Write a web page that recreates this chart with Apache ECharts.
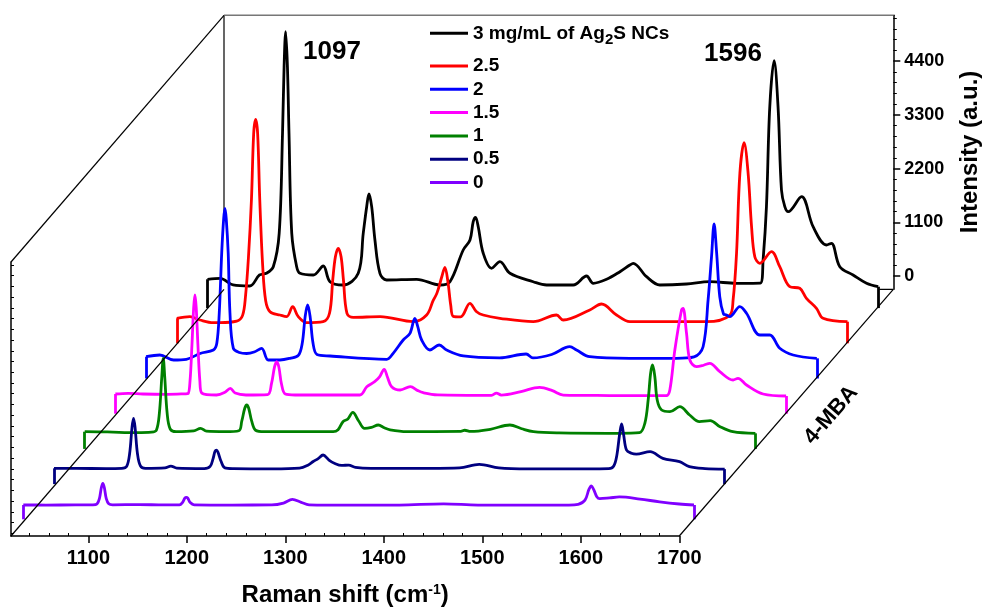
<!DOCTYPE html>
<html>
<head>
<meta charset="utf-8">
<title>4-MBA Raman waterfall</title>
<script src="https://cdn.jsdelivr.net/npm/echarts@6/dist/echarts.min.js"></script>
<style>
    html, body { margin: 0; padding: 0; background: #fff; }
    #main { width: 985px; height: 614px; }
</style>
</head>
<body>
<div id="main"></div>
<script>
// legend names, back (black) to front (violet)
var seriesNames = ['3 mg/mL of Ag2S NCs', '2.5', '2', '1.5', '1', '0.5', '0'];
var seriesColors = ['#000000', '#ff0000', '#0000ff', '#ff00ff', '#008000', '#000080', '#8000ff'];

// spectra: [Raman shift (cm-1), intensity (a.u.)]
var spec3 = [[1017,318],[1030,338],[1043,201],[1060,180],[1070,406],[1077,440],[1084,575],[1090,1259],[1093.4,3306],[1095,4670],[1096.6,5386],[1098.4,4670],[1100,3306],[1102.8,1259],[1107.8,575],[1111.2,440],[1124.7,406],[1134.9,590],[1141.7,268],[1155.2,201],[1170.5,440],[1175.6,1259],[1179.1,1804],[1181.4,2064],[1184.2,1804],[1187.5,1122],[1192.6,440],[1199.4,303],[1230,318],[1253.7,201],[1263.9,268],[1277.4,917],[1284.3,1122],[1287.6,1497],[1290,1587],[1292.7,1394],[1297.8,850],[1306.3,543],[1314.8,678],[1325,440],[1348.7,268],[1362.3,201],[1389.4,201],[1403,385],[1409.8,236],[1423.4,318],[1437,473],[1447.1,610],[1450.5,645],[1464.1,371],[1477.6,201],[1504.8,221],[1528.5,268],[1555.7,236],[1580,240],[1582.8,713],[1586.2,1804],[1589.6,3851],[1594,4792],[1598,3851],[1601.5,2146],[1604.9,1804],[1608.3,1701],[1621.9,2008],[1633.7,1394],[1647.3,1020],[1652.4,1054],[1660.9,575],[1674.4,406],[1688.1,236],[1700,166]];
var spec25 = [[1017,240],[1030.4,273],[1040.6,205],[1054,150],[1061,150],[1078,180],[1084,300],[1087,700],[1090,1500],[1093,2661],[1095.3,4027],[1097.3,4313],[1099.3,4027],[1101.5,2661],[1104.5,1300],[1107.5,600],[1111.9,375],[1122.1,307],[1128.9,273],[1135,477],[1140.7,273],[1149.2,150],[1166,170],[1172.5,342],[1175.8,1024],[1178.5,1500],[1181.4,1673],[1184.3,1500],[1186.7,1024],[1190.3,342],[1196.7,260],[1224,273],[1258,170],[1271.4,307],[1278,600],[1282,760],[1287,1100],[1290,1284],[1293,1000],[1296,500],[1298.5,280],[1306,270],[1315.5,547],[1322,380],[1329,307],[1346,240],[1380,170],[1403.7,307],[1410.5,205],[1437.6,410],[1449.5,532],[1464.8,307],[1478.4,170],[1556.4,170],[1580,300],[1583.5,614],[1587,1570],[1590.4,3208],[1594.7,3834],[1598.8,3208],[1602.3,2115],[1605.6,1501],[1610.7,1366],[1622.6,1603],[1631,1296],[1641.2,887],[1651.4,854],[1658.2,649],[1668.4,444],[1675.1,240],[1700,170]];
var spec2 = [[1017,174],[1031,209],[1045,107],[1058,121],[1072,240],[1085.5,311],[1089,450],[1091.5,1069],[1094,2300],[1096,3000],[1097.3,3212],[1098.6,3000],[1100.6,2300],[1102.4,1069],[1105.8,350],[1112,260],[1119.4,240],[1127,270],[1134.7,346],[1141.4,107],[1153.3,107],[1163.5,141],[1172,200],[1176,450],[1179,1000],[1181.5,1233],[1184,1000],[1187,450],[1191,220],[1204.3,189],[1262,121],[1268.6,244],[1278.8,516],[1285.7,653],[1290.7,960],[1293.5,800],[1297.6,516],[1306,311],[1315.5,414],[1323,311],[1340,189],[1377,150],[1404,230],[1411,150],[1430,220],[1448.5,379],[1455.3,311],[1468.8,174],[1509.6,141],[1557,141],[1575,170],[1584.2,378],[1589.3,1335],[1592.8,2221],[1595.4,2891],[1598,2300],[1601.2,1400],[1605,1050],[1608,1028],[1611.4,993],[1621.6,1198],[1628.4,1063],[1642,618],[1652.1,618],[1662.3,346],[1675.9,209],[1700,141]];
var spec15 = [[1017,131],[1030,145],[1045,131],[1070,125],[1088,135],[1091,140],[1093,400],[1095,1150],[1096.7,1900],[1098,2158],[1099.3,1900],[1101,1150],[1103,400],[1105,150],[1120,111],[1128,160],[1134,248],[1139,150],[1150,111],[1172,120],[1176,350],[1179,680],[1181.2,792],[1183.5,680],[1186,350],[1190,130],[1200,111],[1266,111],[1273,281],[1281,383],[1286,480],[1290.7,637],[1294,480],[1298.3,281],[1307,213],[1317.3,281],[1325,200],[1330.5,158],[1345,115],[1400,105],[1405,150],[1410,110],[1430,180],[1449,268],[1462,200],[1473,110],[1520,100],[1578,96],[1581.6,213],[1586.7,1032],[1593.5,1851],[1595.1,1886],[1598.6,1374],[1602,827],[1608.8,690],[1616,720],[1622.3,760],[1632.5,588],[1646,418],[1651,453],[1659.7,315],[1676.6,131],[1700,90]];
var spec1 = [[1017,80],[1040,75],[1070,60],[1085,70],[1090,110],[1093,450],[1095.5,1200],[1097,1583],[1098.5,1200],[1101,450],[1104,140],[1110,80],[1128,95],[1135,150],[1141,90],[1160,80],[1174,100],[1177,300],[1180,560],[1182,627],[1184,560],[1187,300],[1191,110],[1200,80],[1270,80],[1275,120],[1280,285],[1285,340],[1290,477],[1296,300],[1302,150],[1309,170],[1316,217],[1322,160],[1328,117],[1345,80],[1400,85],[1404,110],[1410,85],[1430,130],[1450,217],[1462,140],[1474,80],[1500,55],[1560,47],[1582,60],[1587.4,252],[1590.8,729],[1593.3,1276],[1595.3,1445],[1597.6,1206],[1600,729],[1604.5,524],[1613,490],[1623,592],[1633,422],[1643,285],[1654,305],[1664,182],[1677,80],[1700,47]];
var spec05 = [[1017,51],[1040,50],[1070,45],[1086,50],[1091,90],[1094,350],[1096.5,900],[1098,1075],[1099.5,900],[1102,350],[1105,100],[1110,50],[1130,60],[1136,97],[1142,55],[1170,45],[1176,90],[1179,250],[1181,400],[1182.5,424],[1184,380],[1187,200],[1191,60],[1200,45],[1240,40],[1267,55],[1276,120],[1281,190],[1286,250],[1291,324],[1297,220],[1303,150],[1310,110],[1317,117],[1324,70],[1340,51],[1400,51],[1430,60],[1450,133],[1470,60],[1500,40],[1560,40],[1582,45],[1587,100],[1590,300],[1593,750],[1595,958],[1597,750],[1600,426],[1605,360],[1610,342],[1624,391],[1637,256],[1654,187],[1664,84],[1680,45],[1700,35]];
var spec0 = [[1017,21],[1040,20],[1070,22],[1088,22],[1092,40],[1094.5,150],[1096.5,380],[1098,465],[1099.5,380],[1101.5,150],[1104,45],[1108,25],[1135,30],[1160,22],[1176,24],[1179,70],[1181.5,160],[1183,178],[1184.5,160],[1187,70],[1191,25],[1230,20],[1270,22],[1282,60],[1291,137],[1300,75],[1308,25],[1350,18],[1400,20],[1445,45],[1480,20],[1530,18],[1572,20],[1582,35],[1589,120],[1593,340],[1595.5,410],[1598,330],[1601,190],[1604,150],[1614,165],[1624,185],[1645,143],[1665,85],[1685,41],[1700,21]];
var spectra = [spec3, spec25, spec2, spec15, spec1, spec05, spec0];

// tick labels
var xMajorTicks = [1100, 1200, 1300, 1400, 1500, 1600, 1700];
var yMajorTicks = [0, 1100, 2200, 3300, 4400];

var FONT = '"Liberation Sans", Arial, Helvetica, sans-serif';
var Y_MIN = -272;
var UNIT_PER_PX = 20.47;
var WALL_MAX = Y_MIN + 274 * UNIT_PER_PX;
var SER_H = 300;
var SER_MAX = Y_MIN + SER_H * UNIT_PER_PX;
var LINE_W = 2.8;

var xMinorTicks = [];
for (var t = 1040; t <= 1680; t += 20) {
    if (t % 100 !== 0) xMinorTicks.push(t);
}
var yMinorTicks = [];
var wallTicks = [];
for (var v = -220; v <= 5280; v += 220) {
    wallTicks.push(v);
    if (v >= 0 && v % 1100 !== 0) yMinorTicks.push(v);
}

function plain(val) {
    return String(val);
}

var black = {color: '#000', width: 1.5};
var grids = [], xAxes = [], yAxes = [], series = [];

// front frame: floor axis + left wall
grids.push({left: 11, top: 262, width: 668.3, height: 274, outerBoundsMode: 'none'});
xAxes.push({
    type: 'value', gridIndex: 0, min: 1021.5, max: 1700, position: 'bottom',
    axisLine: {show: true, onZero: false, lineStyle: black},
    axisTick: {show: true, length: 7, customValues: xMajorTicks, lineStyle: black},
    axisLabel: {
        customValues: xMajorTicks, formatter: plain, margin: 12, color: '#000',
        fontSize: 20, fontWeight: 'bold', fontFamily: FONT
    },
    splitLine: {show: false},
    name: '{a|Raman shift (cm}{b|-1}{a|)}',
    nameLocation: 'middle',
    nameGap: 47,
    nameTextStyle: {
        rich: {
            a: {fontSize: 24, fontWeight: 'bold', fontFamily: FONT, color: '#000', lineHeight: 24, verticalAlign: 'middle'},
            b: {fontSize: 14, fontWeight: 'bold', fontFamily: FONT, color: '#000', lineHeight: 14, verticalAlign: 'top'}
        }
    }
});
xAxes.push({
    type: 'value', gridIndex: 0, min: 1021.5, max: 1700, position: 'bottom',
    axisLine: {show: false, onZero: false},
    axisTick: {show: true, inside: true, length: 3, customValues: xMinorTicks, lineStyle: {color: '#000', width: 1}},
    axisLabel: {show: false},
    splitLine: {show: false}
});
yAxes.push({
    type: 'value', gridIndex: 0, min: Y_MIN, max: WALL_MAX, position: 'left',
    axisLine: {show: true, onZero: false, lineStyle: black},
    axisTick: {show: true, inside: true, length: 3, customValues: wallTicks, lineStyle: {color: '#000', width: 1}},
    axisLabel: {show: false},
    splitLine: {show: false}
});

// back wall: intensity axis on the right
grids.push({left: 224, top: 15.3, width: 669.3, height: 274, outerBoundsMode: 'none'});
xAxes.push({type: 'value', gridIndex: 1, min: 1021.5, max: 1700, show: false});
yAxes.push({
    type: 'value', gridIndex: 1, min: Y_MIN, max: WALL_MAX, position: 'right',
    axisLine: {show: true, onZero: false, lineStyle: black},
    axisTick: {show: true, length: 7, customValues: yMajorTicks, lineStyle: black},
    axisLabel: {
        customValues: yMajorTicks, formatter: plain, margin: 11, color: '#000',
        fontSize: 18, fontWeight: 'bold', fontFamily: FONT
    },
    splitLine: {show: false}
});
yAxes.push({
    type: 'value', gridIndex: 1, min: Y_MIN, max: WALL_MAX, position: 'right',
    axisLine: {show: false, onZero: false},
    axisTick: {show: true, length: 3.5, customValues: yMinorTicks, lineStyle: {color: '#000', width: 1}},
    axisLabel: {show: false},
    splitLine: {show: false}
});

// one hidden cartesian per spectrum, shifted back in depth
spectra.forEach(function (data, i) {
    var k = spectra.length - 1 - i;        // 0 = front
    var floor = 519.3 - 35.2 * k;
    var gi = grids.length;
    grids.push({left: 23.3 + 30.7 * k, top: floor - SER_H, width: 670.7, height: SER_H, outerBoundsMode: 'none'});
    xAxes.push({type: 'value', gridIndex: gi, min: 1017, max: 1700, show: false});
    yAxes.push({type: 'value', gridIndex: gi, min: Y_MIN, max: SER_MAX, show: false});
    var first = data[0], last = data[data.length - 1];
    series.push({
        type: 'line',
        name: seriesNames[i],
        xAxisIndex: xAxes.length - 1,
        yAxisIndex: yAxes.length - 1,
        data: data,
        symbol: 'none',
        showSymbol: false,
        smooth: 0.35,
        color: seriesColors[i],
        itemStyle: {color: seriesColors[i]},
        lineStyle: {color: seriesColors[i], width: LINE_W, join: 'round'},
        areaStyle: {color: '#fff', opacity: 1, origin: 'start'},
        emphasis: {disabled: true},
        silent: true,
        markLine: {
            silent: true,
            symbol: ['none', 'none'],
            label: {show: false},
            lineStyle: {color: seriesColors[i], width: LINE_W, type: 'solid'},
            emphasis: {disabled: true},
            data: [
                [{coord: [first[0], Y_MIN]}, {coord: [first[0], first[1]]}],
                [{coord: [last[0], Y_MIN]}, {coord: [last[0], last[1]]}]
            ]
        }
    });
});

var legendText = {
    fontSize: 19, fontWeight: 'bold', fontFamily: FONT, color: '#000', lineHeight: 19,
    rich: {
        a: {fontSize: 19, fontWeight: 'bold', fontFamily: FONT, color: '#000', lineHeight: 28, verticalAlign: 'middle'},
        s: {fontSize: 15, fontWeight: 'bold', fontFamily: FONT, color: '#000', lineHeight: 15, verticalAlign: 'bottom'}
    }
};

var option = {
    animation: false,
    backgroundColor: '#fff',
    grid: grids,
    xAxis: xAxes,
    yAxis: yAxes,
    series: series,
    legend: [{
        data: [seriesNames[0]],
        orient: 'vertical', left: 430, top: 19.3, padding: 0,
        itemWidth: 38, itemHeight: 3, icon: 'rect', selectedMode: false,
        formatter: function () { return '{a|3 mg/mL of Ag}{s|2}{a|S NCs}'; },
        textStyle: legendText
    }, {
        data: seriesNames.slice(1),
        orient: 'vertical', left: 430, top: 56.5, padding: 0, itemGap: 4.3,
        itemWidth: 38, itemHeight: 3, icon: 'rect', selectedMode: false,
        textStyle: legendText
    }],
    graphic: [
        // hidden box edges (behind the spectra)
        {type: 'line', z: 1, shape: {x1: 224, y1: 15.3, x2: 224, y2: 289.3}, style: {stroke: '#000', lineWidth: 1.2}},
        {type: 'line', z: 1, shape: {x1: 224, y1: 289.3, x2: 893.3, y2: 289.3}, style: {stroke: '#000', lineWidth: 1.2}},
        {type: 'line', z: 1, shape: {x1: 224, y1: 15.3, x2: 893.3, y2: 15.3}, style: {stroke: '#777', lineWidth: 1.5}},
        // visible depth edges
        {type: 'line', z: 10, shape: {x1: 11, y1: 262, x2: 224, y2: 15.3}, style: {stroke: '#000', lineWidth: 1.2}},
        {type: 'line', z: 10, shape: {x1: 11, y1: 536, x2: 224, y2: 289.3}, style: {stroke: '#000', lineWidth: 1.2}},
        {type: 'line', z: 10, shape: {x1: 679.3, y1: 536, x2: 893.3, y2: 289.3}, style: {stroke: '#000', lineWidth: 1.2}},
        {type: 'text', z: 10, x: 332, y: 52, style: {text: '1097', font: 'bold 26px ' + FONT, fill: '#000', align: 'center', verticalAlign: 'middle'}},
        {type: 'text', z: 10, x: 733, y: 54, style: {text: '1596', font: 'bold 26px ' + FONT, fill: '#000', align: 'center', verticalAlign: 'middle'}},
        {type: 'text', z: 10, x: 970, y: 152, rotation: Math.PI / 2, style: {text: 'Intensity (a.u.)', font: 'bold 24px ' + FONT, fill: '#000', align: 'center', verticalAlign: 'middle'}},
        {type: 'text', z: 10, x: 831, y: 415, rotation: 49 * Math.PI / 180, style: {text: '4-MBA', font: 'bold 22px ' + FONT, fill: '#000', align: 'center', verticalAlign: 'middle'}}
    ]
};

var myChart = echarts.init(document.getElementById('main'));
myChart.setOption(option);
</script>
</body>
</html>
